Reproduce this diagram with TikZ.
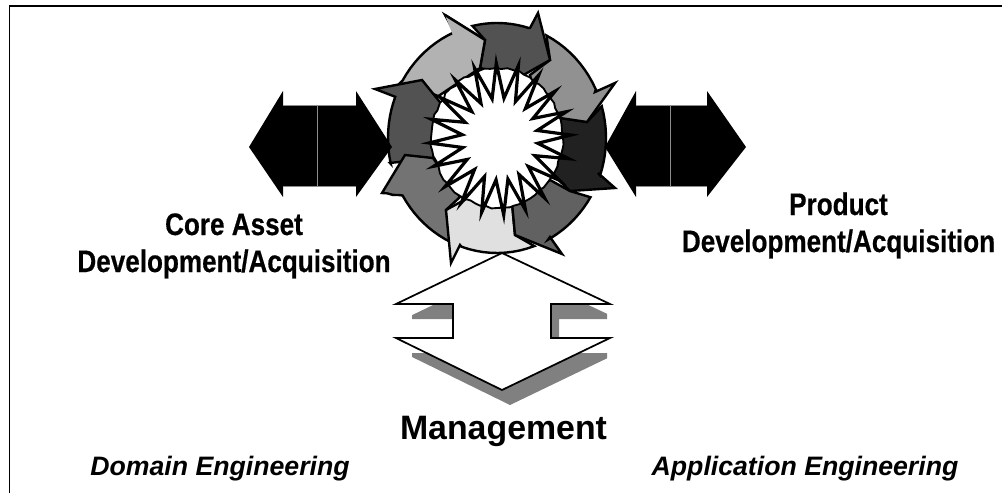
\documentclass[tikz,border=0pt]{standalone}
\usepackage{fontspec}
\setmainfont{Liberation Sans}
\newfontfamily\narrowfont[FakeStretch=0.84,FakeBold=0.5]{Liberation Sans Bold}
\usetikzlibrary{decorations.pathmorphing,calc}
\newcommand{\outerarc}[2]{\foreach \t [evaluate=\t as \a using #1+(#2-#1)*\t/10] in {0,...,10} { -- ($(c)+(\a:109 and 115)$) }}
\tikzset{
  x=0.75pt,y=-0.75pt,
  seg/.style={draw=black,line width=1.8pt,line join=miter,miter limit=8},
  jag/.style={decoration={random steps,segment length=4pt,amplitude=1pt}},
  lab/.style={font=\narrowfont\fontsize{23.3}{27.75}\selectfont,align=center,inner sep=0pt,anchor=base},
  eng/.style={font=\bfseries\itshape\fontsize{20}{24}\selectfont,inner sep=0pt,anchor=base},
  barline/.style={draw=black!45,line width=0.5pt},
}
\begin{document}
\begin{tikzpicture}
\useasboundingbox (0,0) rectangle (1002,493);
\pgfmathsetseed{7}
\draw[line width=1.1pt] (9.5,493) -- (9.5,6) -- (1002,6);
% white double arrow and its shadow
\begin{scope}
\clip (412,250) rectangle (607,410);
\fill[black!50,shift={(8,15)}] (502,253) -- (610,304) -- (551,304) -- (551,338) -- (610,338) -- (502,390) -- (396,338) -- (453,338) -- (453,304) -- (396,304) -- cycle;
\end{scope}
\draw[fill=white,line width=1.3pt,miter limit=10] (502,253) -- (610,304) -- (551,304) -- (551,338) -- (610,338) -- (502,390) -- (396,338) -- (453,338) -- (453,304) -- (396,304) -- cycle;
% ring
\coordinate (c) at (497,138);
\coordinate (s) at (500,139);
% light upper-left
\draw[seg,fill=black!30] (437,97) -- (400,83) decorate[jag]{\outerarc{210}{247}} -- (445,15) -- (485,40) -- (480,68) -- cycle;
% left
\draw[seg,fill=black!68] (433,158) -- (390,163) decorate[jag]{\outerarc{167}{201}} -- (375,89) -- (422,80) -- (452,117) -- cycle;
% lower-left
\draw[seg,fill=black!55] (460,197) -- (433,158) -- (405,155) -- (382,193) decorate[jag]{\outerarc{150}{115}} -- (446,210) -- cycle;
% bottom
\draw[seg,fill=black!12] (446,210) -- (451,263) -- (460,245) decorate[jag]{\outerarc{109}{70}} -- (515,235) -- (512,203) -- (477,193) -- cycle;
% lower-right
\draw[seg,fill=black!62] (515,235) -- (562,254) -- (550,237) decorate[jag]{\outerarc{62}{31}} -- (570,191) -- (550,180) -- (512,203) -- cycle;
% right
\draw[seg,fill=black!87] (570,191) -- (615,188) -- (598,173) decorate[jag]{\outerarc{19}{-16}} -- (587,122) -- (540,115) -- (543,165) -- cycle;
% upper right
\draw[seg,fill=black!43] (587,122) -- (615,83) -- (595,92) decorate[jag]{\outerarc{-25}{-63}} -- (550,60) -- (530,75) -- (540,115) -- cycle;
% top
\draw[seg,fill=black!68] (550,60) -- (538,13) -- (530,28) decorate[jag]{\outerarc{-73}{-103}} -- (485,40) -- (480,68) -- (520,77) -- cycle;
% light head again, over the top segment
\fill[black!30] (465,62) -- (452,33) -- (445,15) -- (485,40) -- (480,68) -- cycle;
\draw[seg] (445,15) -- (485,40) -- (480,68);
% hole
\draw[decorate,jag,line width=1.4pt,fill=white] (c) ++(0:66 and 70) \foreach \t [evaluate=\t as \a using 15*\t] in {1,...,24} { -- ($(c)+(\a:66 and 70)$) } -- cycle;
% star
\draw[fill=white,line width=2.4pt,miter limit=14,line join=miter]
  ($(s)+(-102:38 and 41)$) \foreach \k [evaluate=\k as \aa using -93+18*\k, evaluate=\k as \bb using -84+18*\k] in {0,...,19} { -- ($(s)+(\aa:71 and 76)$) -- ($(s)+(\bb:38 and 41)$) } -- cycle;
% black double arrows
\fill[black] (249,147) -- (283,91) -- (283,105) -- (356,105) -- (356,91) -- (392,147) -- (356,197) -- (356,186) -- (283,186) -- (283,197) -- cycle;
\draw[barline] (283,105) -- (356,105) (283,186) -- (356,186) (317,105) -- (317,186);
\fill[black] (605,147) -- (636,91) -- (636,105) -- (707,105) -- (707,91) -- (746,147) -- (707,197) -- (707,186) -- (636,186) -- (636,197) -- cycle;
\draw[barline] (636,105) -- (707,105) (636,186) -- (707,186) (670,105) -- (670,186);
% labels
\node[lab] (core) at (234,272) {Core Asset\\Development/Acquisition};
\node[lab] (prod) at (838.5,252) {Product\\Development/Acquisition};
\node[font=\bfseries\fontsize{25.4}{30}\selectfont,inner sep=0pt,anchor=base] (mgmt) at (503.5,439) {Management};
\node[eng] (dom) at (220,475) {Domain Engineering};
\node[eng] (app) at (805,475) {Application Engineering};
\end{tikzpicture}
\end{document}
